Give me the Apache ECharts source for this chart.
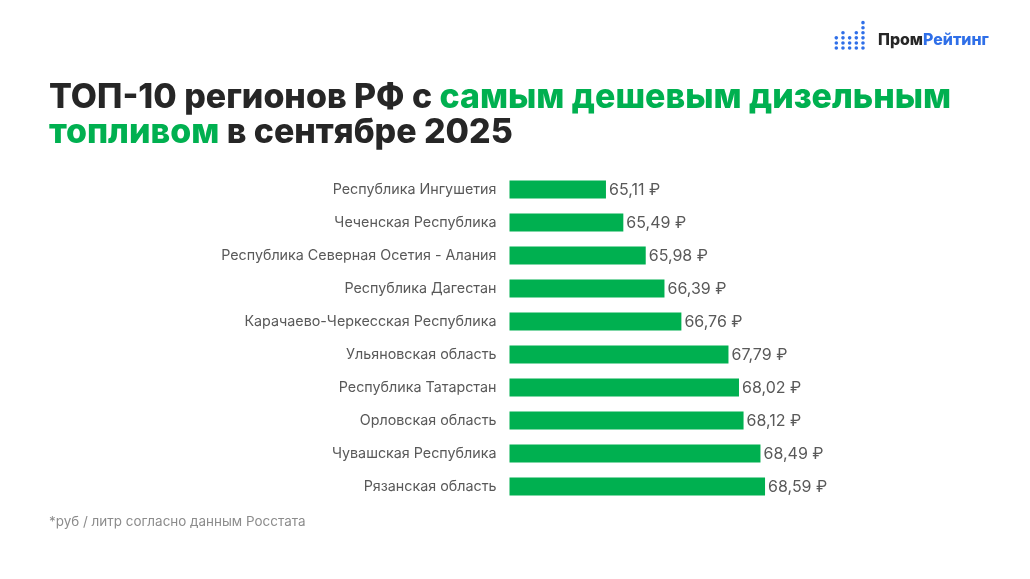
<!DOCTYPE html>
<html><head><meta charset="utf-8">
<style>html,body{margin:0;padding:0;background:#fff}#c{width:1030px;height:579px}</style>
<script src="https://cdn.jsdelivr.net/npm/echarts@6/dist/echarts.min.js"></script>
</head><body><div id="c"></div>
<script>
const categories = ['Республика Ингушетия','Чеченская Республика','Республика Северная Осетия - Алания','Республика Дагестан','Карачаево-Черкесская Республика','Ульяновская область','Республика Татарстан','Орловская область','Чувашская Республика','Рязанская область'];
const values = [65.11,65.49,65.98,66.39,66.76,67.79,68.02,68.12,68.49,68.59];
const logoColumns = [3,4,3,4,6];
const FONT = 'Inter';
const chart = echarts.init(document.getElementById('c'), null, {renderer:'canvas'});
const logoDots = [];
logoColumns.forEach((n,i)=>{
  for(let k=0;k<n;k++){
    logoDots.push({type:'circle',shape:{cx:836.3+i*6.67,cy:48-k*5.07,r:1.8},style:{fill:'#2f6fe8'}});
  }
});
chart.setOption({
  animation:false,
  backgroundColor:'#ffffff',
  textStyle:{fontFamily:FONT},
  grid:{left:509.5,top:173,width:320,height:330,containLabel:false},
  xAxis:{type:'value',min:63,max:70,show:false},
  yAxis:{type:'category',inverse:true,data:categories,
    axisLine:{show:false},axisTick:{show:false},
    axisLabel:{color:'#595959',fontSize:14.3,margin:13,fontFamily:FONT}},
  series:[{type:'bar',data:values,barWidth:18,
    itemStyle:{color:'#00b050'},
    label:{show:true,position:'right',distance:3,offset:[0,1],color:'#595959',fontSize:16,fontFamily:FONT,
      formatter:p=>p.value.toFixed(2).replace('.',',')+' ₽'}}],
  graphic:[
    {type:'text',left:49,top:80.5,style:{
      text:'{a|ТОП-10 регионов РФ с }{b|самым дешевым дизельным}\n{b|топливом}{a| в сентябре 2025}',
      rich:{
        a:{fill:'#262626',font:'800 33.9px Inter',lineHeight:35.5},
        b:{fill:'#00b050',font:'800 33.9px Inter',lineHeight:35.5}
      }}},
    {type:'text',left:49,top:515,style:{text:'*руб / литр согласно данным Росстата',fill:'#8c8c8c',font:'400 13.45px Inter'}},
    {type:'text',left:878,top:32,style:{
      text:'{a|Пром}{b|Рейтинг}',
      rich:{a:{fill:'#262626',font:'800 15.9px Inter'},b:{fill:'#2f6fe8',font:'800 15.9px Inter'}}}},
    ...logoDots
  ]
});
</script></body></html>
